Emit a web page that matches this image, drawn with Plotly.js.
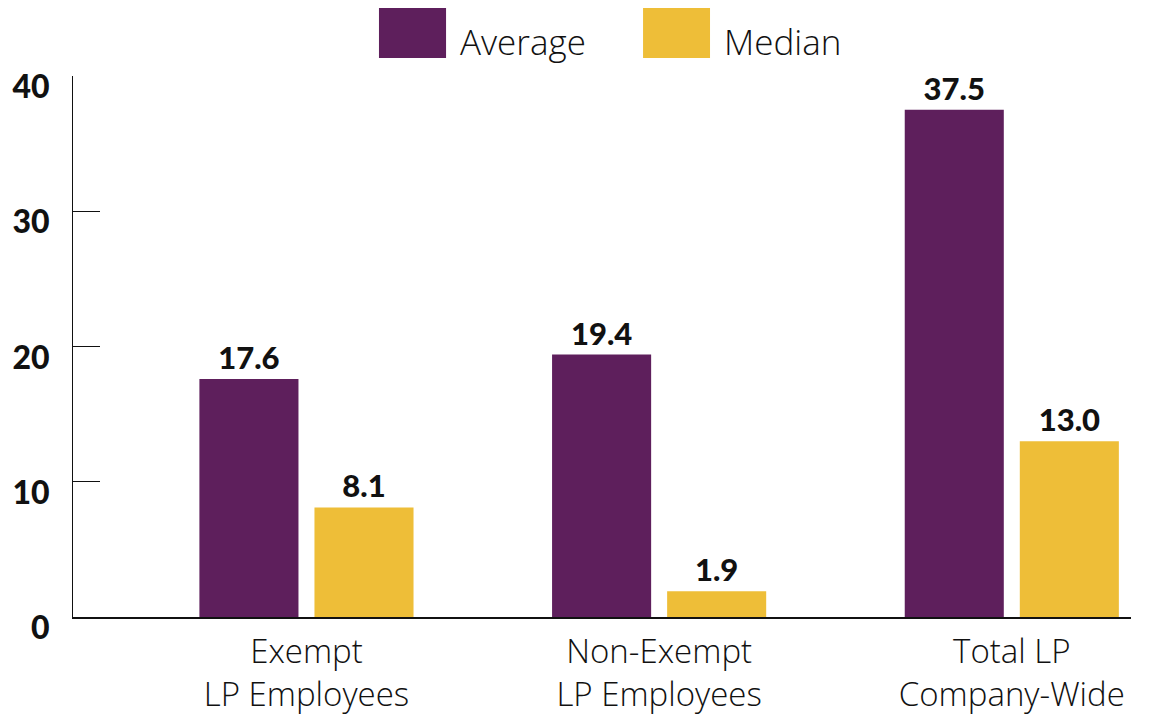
<!DOCTYPE html>
<html>
<head>
<meta charset="utf-8">
<script src="https://cdn.plot.ly/plotly-3.0.1.min.js"></script>
<style>html,body{margin:0;padding:0;background:#fff;}#chart{width:1155px;height:726px;}</style>
</head>
<body>
<div id="chart"></div>
<script>
const categories = ["Exempt<br>LP Employees", "Non-Exempt<br>LP Employees", "Total LP<br>Company-Wide"];
const averageValues = [17.6, 19.4, 37.5];
const medianValues = [8.1, 1.9, 13.0];
const seriesNames = ["Average", "Median"];
const yTickValues = [0, 10, 20, 30, 40];

const purple = "#5E1F5C";
const gold = "#EEBE38";
const fontFamily = "Lato, 'Open Sans', sans-serif";
const lightFamily = "'Open Sans', Lato, sans-serif";

const valueFont = {family: fontFamily, size: 31, color: "#111", weight: 900};

const traces = [
  {type: "bar", name: seriesNames[0], x: categories, y: averageValues,
   marker: {color: purple}, text: averageValues.map(v => v.toFixed(1)),
   textposition: "outside", textfont: valueFont, cliponaxis: false, hoverinfo: "skip"},
  {type: "bar", name: seriesNames[1], x: categories, y: medianValues,
   marker: {color: gold}, text: medianValues.map(v => v.toFixed(1)),
   textposition: "outside", textfont: valueFont, cliponaxis: false, hoverinfo: "skip"}
];

const layout = {
  width: 1155, height: 726,
  margin: {l: 73, r: 24, t: 76, b: 109},
  paper_bgcolor: "#fff", plot_bgcolor: "#fff",
  showlegend: false,
  barmode: "group",
  bargap: 0.3475,
  bargroupgap: 0.139,
  font: {family: fontFamily, color: "#111"},
  xaxis: {
    type: "category", range: [-0.662, 2.338],
    showline: true, linecolor: "#111", linewidth: 2,
    showgrid: false, zeroline: false, ticks: "",
    tickfont: {family: lightFamily, size: 33, color: "#111", weight: 300},
    ticklabelstandoff: 4
  },
  yaxis: {
    range: [0, 40], tickvals: yTickValues,
    showline: true, linecolor: "#111", linewidth: 1,
    showgrid: false, zeroline: false,
    ticks: "inside", ticklen: 27, tickcolor: "#111", tickwidth: 1,
    tickfont: {family: fontFamily, size: 32, color: "#111", weight: 900},
    ticklabelstandoff: 16, ticklabelshift: 11
  },
  shapes: [
    {type: "rect", xref: "paper", yref: "paper", x0: 0.2892, x1: 0.3526, y0: 1.0333, y1: 1.1257, fillcolor: purple, line: {width: 0}},
    {type: "rect", xref: "paper", yref: "paper", x0: 0.5388, x1: 0.6021, y0: 1.0333, y1: 1.1257, fillcolor: gold, line: {width: 0}}
  ],
  annotations: [
    {xref: "paper", yref: "paper", x: 0.3639, y: 1.064, xanchor: "left", yanchor: "middle", text: seriesNames[0], showarrow: false, font: {family: lightFamily, size: 35, color: "#111", weight: 300}},
    {xref: "paper", yref: "paper", x: 0.6134, y: 1.064, xanchor: "left", yanchor: "middle", text: seriesNames[1], showarrow: false, font: {family: lightFamily, size: 35, color: "#111", weight: 300}}
  ]
};

Plotly.newPlot("chart", traces, layout, {displayModeBar: false, staticPlot: true});
</script>
</body>
</html>
